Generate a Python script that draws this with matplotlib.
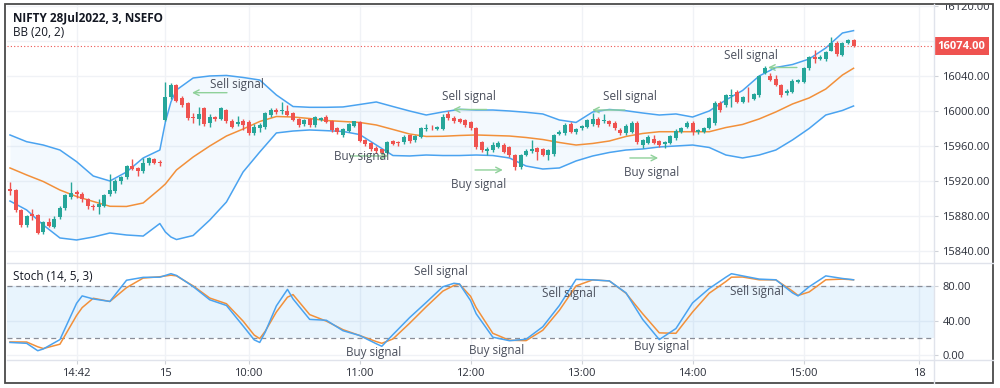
import matplotlib
matplotlib.use("Agg")
import matplotlib.pyplot as plt
from matplotlib.patches import Rectangle
from matplotlib.lines import Line2D
from matplotlib.transforms import Bbox, TransformedBbox

plt.rcParams['font.family'] = ['Open Sans', 'DejaVu Sans']

# NIFTY 3-min candles, 14 Jul 14:06 -> 15 Jul 15:27
opens = [
    15910.5, 15909.5, 15887, 15869.5, 15882, 15881, 15862, 15873.5, 15867.5, 15878.5,
    15889, 15901.5, 15907, 15905, 15900, 15891, 15890.5, 15892, 15905, 15908,
    15919.5, 15924, 15937.5, 15934.5, 15931, 15940, 15945, 15941.5, 15989.7, 16016.4,
    16029.5, 16015, 16008.8, 15993.6, 15991, 16003, 15986.5, 15993, 15991, 16001,
    15989, 15985.5, 15989, 15987.8, 15975, 15980, 15982, 15995.4, 16001, 15999.5,
    16000.4, 15997.3, 15990.5, 15985, 15990.5, 15984, 15989.7, 15992.7, 15989, 15980.2,
    15972.6, 15977.5, 15983, 15987, 15967, 15963, 15958, 15956, 15952.5, 15965.5,
    15964, 15964, 15972, 15967, 15970.5, 15979, 15981, 15979.5, 15979, 15997,
    15992, 15990.5, 15989.5, 15987, 15981, 15964.5, 15954, 15955, 15959.2, 15961.2,
    15958.5, 15949.7, 15935.6, 15949.7, 15954.7, 15957.3, 15956.2, 15949.7, 15950.9, 15973.7,
    15974.5, 15985, 15976.4, 15980, 15982, 15985, 15990.5, 15988, 15988, 15986,
    15978.3, 15974.5, 15976, 15986.7, 15961.2, 15963.8, 15967.6, 15966, 15962, 15963.8,
    15968.8, 15976.4, 15982, 15985.9, 15976.4, 15976.4, 15980.2, 15985.9, 16008.8, 16006.9,
    16017, 16022.1, 16010.7, 16015.3, 16013.4, 16018.3, 16043.8, 16040, 16036.2, 16029.7,
    16020.2, 16022.1, 16033.6, 16033.6, 16048.8, 16062.1, 16059.1, 16059.1, 16069, 16078.1,
    16064, 16077.4, 16081.2,
]
highs = [
    15919, 15911, 15888, 15881, 15888, 15882, 15874, 15878, 15880, 15891,
    15905, 15919, 15910, 15907, 15901, 15894, 15899, 15905, 15928, 15922,
    15926, 15938, 15945, 15936, 15946, 15947, 15946, 15943.5, 16033.5, 16032,
    16031, 16017, 16010.7, 15998, 16004, 16005, 15996, 15994, 16005, 16002,
    15991, 15994, 15991, 15990, 15985, 15986, 15999, 16003, 16003, 16010.7,
    16006.9, 15999, 15992, 15991, 15992, 15994, 15993, 15995, 15990, 15982,
    15980, 15986, 15989, 15988, 15968, 15964, 15960, 15957, 15966, 15967,
    15966, 15972, 15973, 15973, 15982, 15985, 15984, 15983, 15997, 16000,
    15994, 15992, 15991, 15988, 15982, 15966, 15959, 15964, 15966, 15963,
    15960, 15951, 15951, 15956, 15966.9, 15959, 15958, 15957, 15974, 15978,
    15986, 15987, 15981, 15984, 15991, 15998, 15993, 15996, 15990, 15988,
    15980, 15985, 15988, 15988, 15968, 15972, 15973, 15967, 15966, 15973,
    15979, 15982, 15988, 15989, 15979, 15982, 15993, 16011, 16011, 16019,
    16024.8, 16024, 16017, 16027, 16021, 16041, 16051, 16043, 16041, 16031,
    16025, 16036, 16037, 16050, 16063, 16069.7, 16064, 16069, 16084.2, 16080,
    16079, 16082, 16082,
]
lows = [
    15904, 15885, 15868, 15868, 15876, 15860, 15860, 15867, 15866, 15877,
    15887, 15899, 15901, 15896, 15888, 15887, 15882, 15890, 15903, 15906,
    15917, 15922, 15932, 15926, 15929, 15938, 15939, 15937, 15988, 16013.4,
    16010, 16005, 15989.8, 15986.7, 15984, 15983, 15982, 15989, 15989.5, 15986,
    15980, 15983, 15978, 15972, 15973, 15976, 15979, 15993, 15996, 15997,
    15994, 15988, 15982, 15983, 15982, 15982, 15988, 15986, 15976, 15974,
    15970, 15976, 15982, 15964, 15960, 15954, 15952, 15950, 15951, 15961,
    15960, 15962, 15963, 15965, 15969, 15977, 15978, 15978, 15978, 15990,
    15986, 15986, 15982, 15978, 15956, 15953, 15950, 15953, 15958, 15952,
    15947, 15932.6, 15934, 15948, 15952, 15944, 15948, 15944, 15949, 15972,
    15973, 15975, 15974, 15978, 15980, 15983, 15982, 15986, 15983, 15978,
    15972, 15973, 15975, 15962, 15958, 15962, 15962, 15959, 15958, 15962,
    15967, 15975, 15980, 15972, 15974, 15975, 15979, 15984, 15999, 16005,
    16005, 16009, 16009, 16010.7, 16012, 16016, 16042, 16034, 16028, 16016,
    16018, 16021, 16032, 16032, 16047, 16054.5, 16058, 16057, 16068, 16063,
    16063, 16076, 16073,
]
closes = [
    15908, 15887, 15870, 15880, 15880, 15861, 15873.5, 15868.5, 15877, 15889,
    15903.5, 15906, 15905, 15899.5, 15891, 15890, 15893.5, 15904, 15910, 15919.5,
    15924, 15937, 15934, 15931.5, 15941, 15946.5, 15941, 15941, 16016.4, 16029.8,
    16011.5, 16006.5, 15991.7, 15991.7, 15996.5, 15985.5, 15993, 15991, 16003, 15989,
    15982, 15987.5, 15984, 15974.5, 15982, 15984, 15997.3, 16001.2, 15998.5, 16001,
    15995.4, 15989.7, 15984, 15989.7, 15984, 15992.7, 15991.6, 15987.8, 15978.3, 15976.4,
    15979, 15985, 15988, 15966, 15962, 15956.5, 15954.5, 15952, 15965, 15962.5,
    15963, 15970, 15966, 15971, 15980, 15981, 15980, 15981.5, 15993.5, 15991.6,
    15988.5, 15987.8, 15984, 15980, 15958.5, 15955.5, 15957, 15961.2, 15963.8, 15953.5,
    15949.7, 15936.4, 15949.7, 15954.7, 15956.2, 15953.5, 15949.7, 15955.4, 15972.6, 15976.4,
    15984, 15976.4, 15979, 15982.8, 15989.7, 15990.5, 15984, 15989.5, 15985, 15980,
    15974.5, 15983, 15986.7, 15965, 15966.9, 15970, 15963.8, 15961.2, 15964.5, 15971.4,
    15977.5, 15980.2, 15986.7, 15976.4, 15978.3, 15980.2, 15991.6, 16009.6, 16001.2, 16018.3,
    16018.5, 16010.7, 16016.4, 16014.5, 16019.5, 16040, 16048.8, 16035.5, 16029.7, 16018.3,
    16023.3, 16034.7, 16035.5, 16048.8, 16062.1, 16059.1, 16062.1, 16067.8, 16078.1, 16065.2,
    16077.4, 16081.2, 16074,
]

# Bollinger bands (20, 2) at these bars
bb_idx = [0, 3, 6, 9, 12, 15, 18, 21, 24, 27, 28, 29, 30, 33, 36, 39, 42, 45, 48, 51,
          54, 57, 60, 63, 66, 69, 72, 75, 78, 81, 84, 87, 90, 93, 96, 99, 102, 105, 108, 111,
          114, 117, 120, 123, 126, 129, 132, 135, 138, 141, 144, 147, 150, 152]
bb_upper = [15972.6, 15964.9, 15961.1, 15955.4, 15942.1, 15925.7, 15920.0, 15930.3, 15946.3, 15955.4,
            15987.4, 16010.3, 16024.0, 16037.7, 16040.0, 16040.6, 16038.3, 16035.4, 16018.3, 16005.1,
            16004.2, 16004.2, 16004.6, 16007.4, 16010.3, 16005.1, 16000.0, 15995.4, 15998.9, 16001.9,
            16001.1, 16001.1, 16000.0, 15998.5, 15996.6, 15989.7, 15986.9, 15998.9, 16001.7, 16000.3,
            15997.7, 15995.4, 15996.6, 15993.1, 16000.0, 16012.6, 16023.4, 16040.0, 16049.7, 16053.1,
            16059.4, 16072.0, 16089.1, 16091.8]
bb_basis = [15934.9, 15926.9, 15919.4, 15909.7, 15902.3, 15896.6, 15891.1, 15890.9, 15894.9, 15910.9,
            15916.6, 15924.6, 15932.6, 15947.4, 15960.0, 15971.4, 15979.4, 15988.0, 15993.7, 15993.1,
            15991.4, 15989.1, 15988.0, 15986.9, 15984.0, 15978.9, 15973.7, 15970.9, 15971.1, 15972.0,
            15972.6, 15972.0, 15971.4, 15969.7, 15967.4, 15964.0, 15961.1, 15962.9, 15965.7, 15970.9,
            15974.3, 15976.3, 15976.3, 15976.3, 15976.3, 15981.1, 15984.6, 15990.9, 15998.9, 16008.0,
            16014.9, 16025.1, 16041.1, 16048.8]
bb_lower = [15897.1, 15886.9, 15869.7, 15854.9, 15852.6, 15856.0, 15860.6, 15858.3, 15857.1, 15871.4,
            15861.7, 15856.0, 15853.1, 15857.7, 15875.4, 15896.0, 15930.3, 15953.1, 15974.9, 15977.1,
            15978.3, 15977.5, 15976.6, 15973.1, 15961.1, 15949.1, 15948.6, 15949.7, 15949.1, 15949.1,
            15949.7, 15949.1, 15946.3, 15937.1, 15933.7, 15934.9, 15942.9, 15948.6, 15952.6, 15955.4,
            15956.6, 15958.9, 15960.0, 15961.1, 15958.3, 15949.7, 15946.3, 15949.7, 15955.4, 15966.9,
            15980.0, 15995.4, 16000.6, 16005.7]

# Stochastic (14, 5, 3)
stoch_idx = [0, 3, 5, 6, 9, 12, 13, 15, 18, 21, 24, 27, 29, 30, 33, 36, 39, 42, 44, 45,
             46, 48, 50, 51, 54, 57, 60, 63, 66, 67, 69, 72, 75, 78, 80, 81, 83, 84, 87, 90,
             93, 96, 99, 102, 105, 108, 111, 114, 117, 120, 123, 126, 129, 130, 132, 135, 138, 141, 142, 144,
             147, 150, 152]
stoch_k = [15, 14, 5.5, 7.5, 18.3, 60, 68.5, 65, 62.1, 86.5, 89.8, 90, 94, 92, 79.2, 64, 57.5, 34, 18, 15,
           27, 57, 76, 65, 41.5, 40.5, 28.5, 23, 13.5, 10.6, 24, 43.5, 61, 79, 83, 82.2, 63, 48, 21, 17,
           18.7, 33, 57.5, 87.5, 86.9, 85.7, 72, 41.5, 18.3, 31, 60.5, 77, 90, 94, 91.5, 87.8, 87, 72, 68.5, 79,
           91.5, 88.5, 87]
stoch_d = [15.6, 15.5, 10, 8, 13, 46, 55, 65.8, 62.1, 78, 89, 90.5, 92.3, 91.5, 80, 66, 59.5, 39.5, 23.5, 19.4,
           28, 50, 67, 70, 47, 39.5, 29.7, 23, 16, 14, 19, 37, 56, 74, 80.5, 81.9, 68, 55, 25.5, 17.5,
           17.1, 29, 52, 80, 86.9, 85.7, 71.5, 48, 26, 25.5, 50, 71.6, 85, 90, 90.2, 87, 86.9, 74, 69, 73,
           87, 87.8, 87]

time_ticks = [12, 28, 43, 63, 83, 103, 123, 143, 163.8]
time_labels = ['14:42', '15', '10:00', '11:00', '12:00', '13:00', '14:00', '15:00', '18']
price_ticks = [15840, 15880, 15920, 15960, 16000, 16040, 16080, 16120]
stoch_ticks = [0, 40, 80]

UP = '#26a69a'
DOWN = '#ef5350'
BLUE = '#4aa3f0'
ORANGE = '#f2903a'
GRID = '#f0f2f6'
TXT = '#4a4f5c'
ARROW = '#8fd19a'

W, H = 1000, 388
fig = plt.figure(figsize=(W / 100, H / 100), dpi=100)
x_l, x_r = 7 / W, 934 / W
ax = fig.add_axes([x_l, 1 - 263 / H, x_r - x_l, (263 - 5) / H])
ax2 = fig.add_axes([x_l, 1 - 359.5 / H, x_r - x_l, (359.5 - 263) / H], sharex=ax)

xs = list(range(len(closes)))
colors = [UP if c >= o else DOWN for o, c in zip(opens, closes)]
bottoms = [min(o, c) for o, c in zip(opens, closes)]
heights = [max(abs(c - o), 0.6) for o, c in zip(opens, closes)]

# main panel
ax.fill_between(bb_idx, bb_lower, bb_upper, color='#2196f3', alpha=0.05, lw=0)
ax.plot(bb_idx, bb_upper, color=BLUE, lw=1.1)
ax.plot(bb_idx, bb_lower, color=BLUE, lw=1.1)
ax.plot(bb_idx, bb_basis, color=ORANGE, lw=1.1)
ax.vlines(xs, lows, highs, colors=colors, lw=1, zorder=3)
ax.bar(xs, heights, bottom=bottoms, width=0.72, color=colors, zorder=4)
ax.axhline(closes[-1], color=DOWN, lw=0.8, ls=(0, (1, 2)), zorder=2)

ax.set_xlim(-0.54, 166.5)
ax.set_ylim(15826.3, 16121.1)

for t in time_ticks:
    ax.axvline(t, color=GRID, lw=1, zorder=0)
    ax2.axvline(t, color=GRID, lw=1, zorder=0)
for p in price_ticks:
    ax.axhline(p, color=GRID, lw=1, zorder=0)

ax.yaxis.tick_right()
ax.set_yticks(price_ticks)
ax.set_yticklabels([f'{p:.2f}' for p in price_ticks])
ax.tick_params(axis='y', length=3, width=0.8, color='#cfd2d8', labelcolor='#2a2e39', labelsize=8, pad=3)
ax.tick_params(axis='x', length=0, labelbottom=False)
for s in ax.spines.values():
    s.set_visible(False)

ax.text(1.004, closes[-1], f'{closes[-1]:.2f}', transform=ax.get_yaxis_transform(),
        ha='left', va='center', color='white', fontsize=8, fontweight='bold',
        bbox=dict(boxstyle='square,pad=0.3', fc=DOWN, ec='none'), clip_on=False, zorder=10)

# signal notes on the price panel
main_notes = [('Sell signal', 40.9, 16029.7, 39.1, 32.8, 16020.9),
              ('Sell signal', 82.7, 16016.0, 85.9, 79.8, 16001.7),
              ('Sell signal', 111.7, 16016.0, 110.8, 104.9, 16001.1),
              ('Sell signal', 133.5, 16063.4, 141.8, 136.6, 16049.7),
              ('Buy signal', 63.4, 15948.0, 61.3, 68.1, 15948.6),
              ('Buy signal', 84.5, 15916.0, 83.8, 88.8, 15932.6),
              ('Buy signal', 115.7, 15929.7, 111.7, 116.8, 15946.3)]
for label, tx, ty, a0, a1, ay in main_notes:
    ax.annotate('', xy=(a1, ay), xytext=(a0, ay),
                arrowprops=dict(arrowstyle='->', color=ARROW, lw=1, shrinkA=0, shrinkB=0), zorder=5)
    ax.text(tx, ty, label, ha='center', va='center', fontsize=8.5, color=TXT, zorder=6)

# stochastic panel
ax2.axhspan(20, 80, color='#2196f3', alpha=0.1, lw=0)
ax2.axhline(80, color='#8a8e98', lw=0.9, ls=(0, (4, 3)))
ax2.axhline(20, color='#8a8e98', lw=0.9, ls=(0, (4, 3)))
ax2.plot(stoch_idx, stoch_d, color=ORANGE, lw=1.1)
ax2.plot(stoch_idx, stoch_k, color=BLUE, lw=1.1)
ax2.set_ylim(-4.6, 106.3)
for v in stoch_ticks:
    ax2.axhline(v, color=GRID, lw=1, zorder=0)

ax2.yaxis.tick_right()
ax2.set_yticks(stoch_ticks)
ax2.set_yticklabels([f'{v:.2f}' for v in stoch_ticks])
ax2.tick_params(axis='y', length=3, width=0.8, color='#cfd2d8', labelcolor='#2a2e39', labelsize=8, pad=3)
ax2.set_xticks(time_ticks)
ax2.set_xticklabels(time_labels)
ax2.tick_params(axis='x', length=3, width=0.8, color='#cfd2d8', labelcolor='#2a2e39', labelsize=8, pad=3)
for s in ax2.spines.values():
    s.set_visible(False)

stoch_notes = [('Sell signal', 77.7, 96.0), ('Sell signal', 100.7, 70.9), ('Sell signal', 134.6, 73.7),
               ('Buy signal', 65.6, 3.4), ('Buy signal', 87.6, 6.3), ('Buy signal', 117.5, 10.9)]
for label, tx, ty in stoch_notes:
    ax2.text(tx, ty, label, ha='center', va='center', fontsize=8.5, color=TXT, zorder=6)

# clip the axis labels that overrun the pane edges or sit under the price tag
main_clip = TransformedBbox(Bbox.from_extents(x_r, 1 - 263 / H, 1, 1 - 5 / H), fig.transFigure)
tag_clip = TransformedBbox(Bbox.from_extents(x_r, 1 - 37 / H, 1, 1 - 5 / H), fig.transFigure)
stoch_clip = TransformedBbox(Bbox.from_extents(x_r, 1 - 359.5 / H, 1, 1 - 263 / H), fig.transFigure)
for p, tick in zip(price_ticks, ax.yaxis.get_major_ticks()):
    tick.label2.set_clip_box(tag_clip if p == 16080 else main_clip)
    tick.label2.set_clip_on(True)
for tick in ax2.yaxis.get_major_ticks():
    tick.label2.set_clip_box(stoch_clip)
    tick.label2.set_clip_on(True)

# pane separators and frame
sep = '#e0e3eb'
fig.add_artist(Line2D([x_l, 993 / W], [1 - 263 / H] * 2, color=sep, lw=1))
fig.add_artist(Line2D([x_l, 993 / W], [1 - 359.5 / H] * 2, color=sep, lw=1))
fig.add_artist(Line2D([x_r, x_r], [1 - 383 / H, 1 - 4 / H], color=sep, lw=1))
fig.add_artist(Rectangle((5 / W, 1 - 383 / H), 988 / W, 379 / H, transform=fig.transFigure,
                         fill=False, ec='#4a4a4a', lw=1.3))

fig.text(13 / W, 1 - 18 / H, 'NIFTY 28Jul2022, 3, NSEFO', fontsize=8.5, fontweight='bold',
         color='#131722', va='center')
fig.text(13 / W, 1 - 33 / H, 'BB (20, 2)', fontsize=8.5, color='#131722', va='center')
fig.text(13 / W, 1 - 276 / H, 'Stoch (14, 5, 3)', fontsize=8.5, color='#131722', va='center')

fig.savefig('out.png', dpi=100)
